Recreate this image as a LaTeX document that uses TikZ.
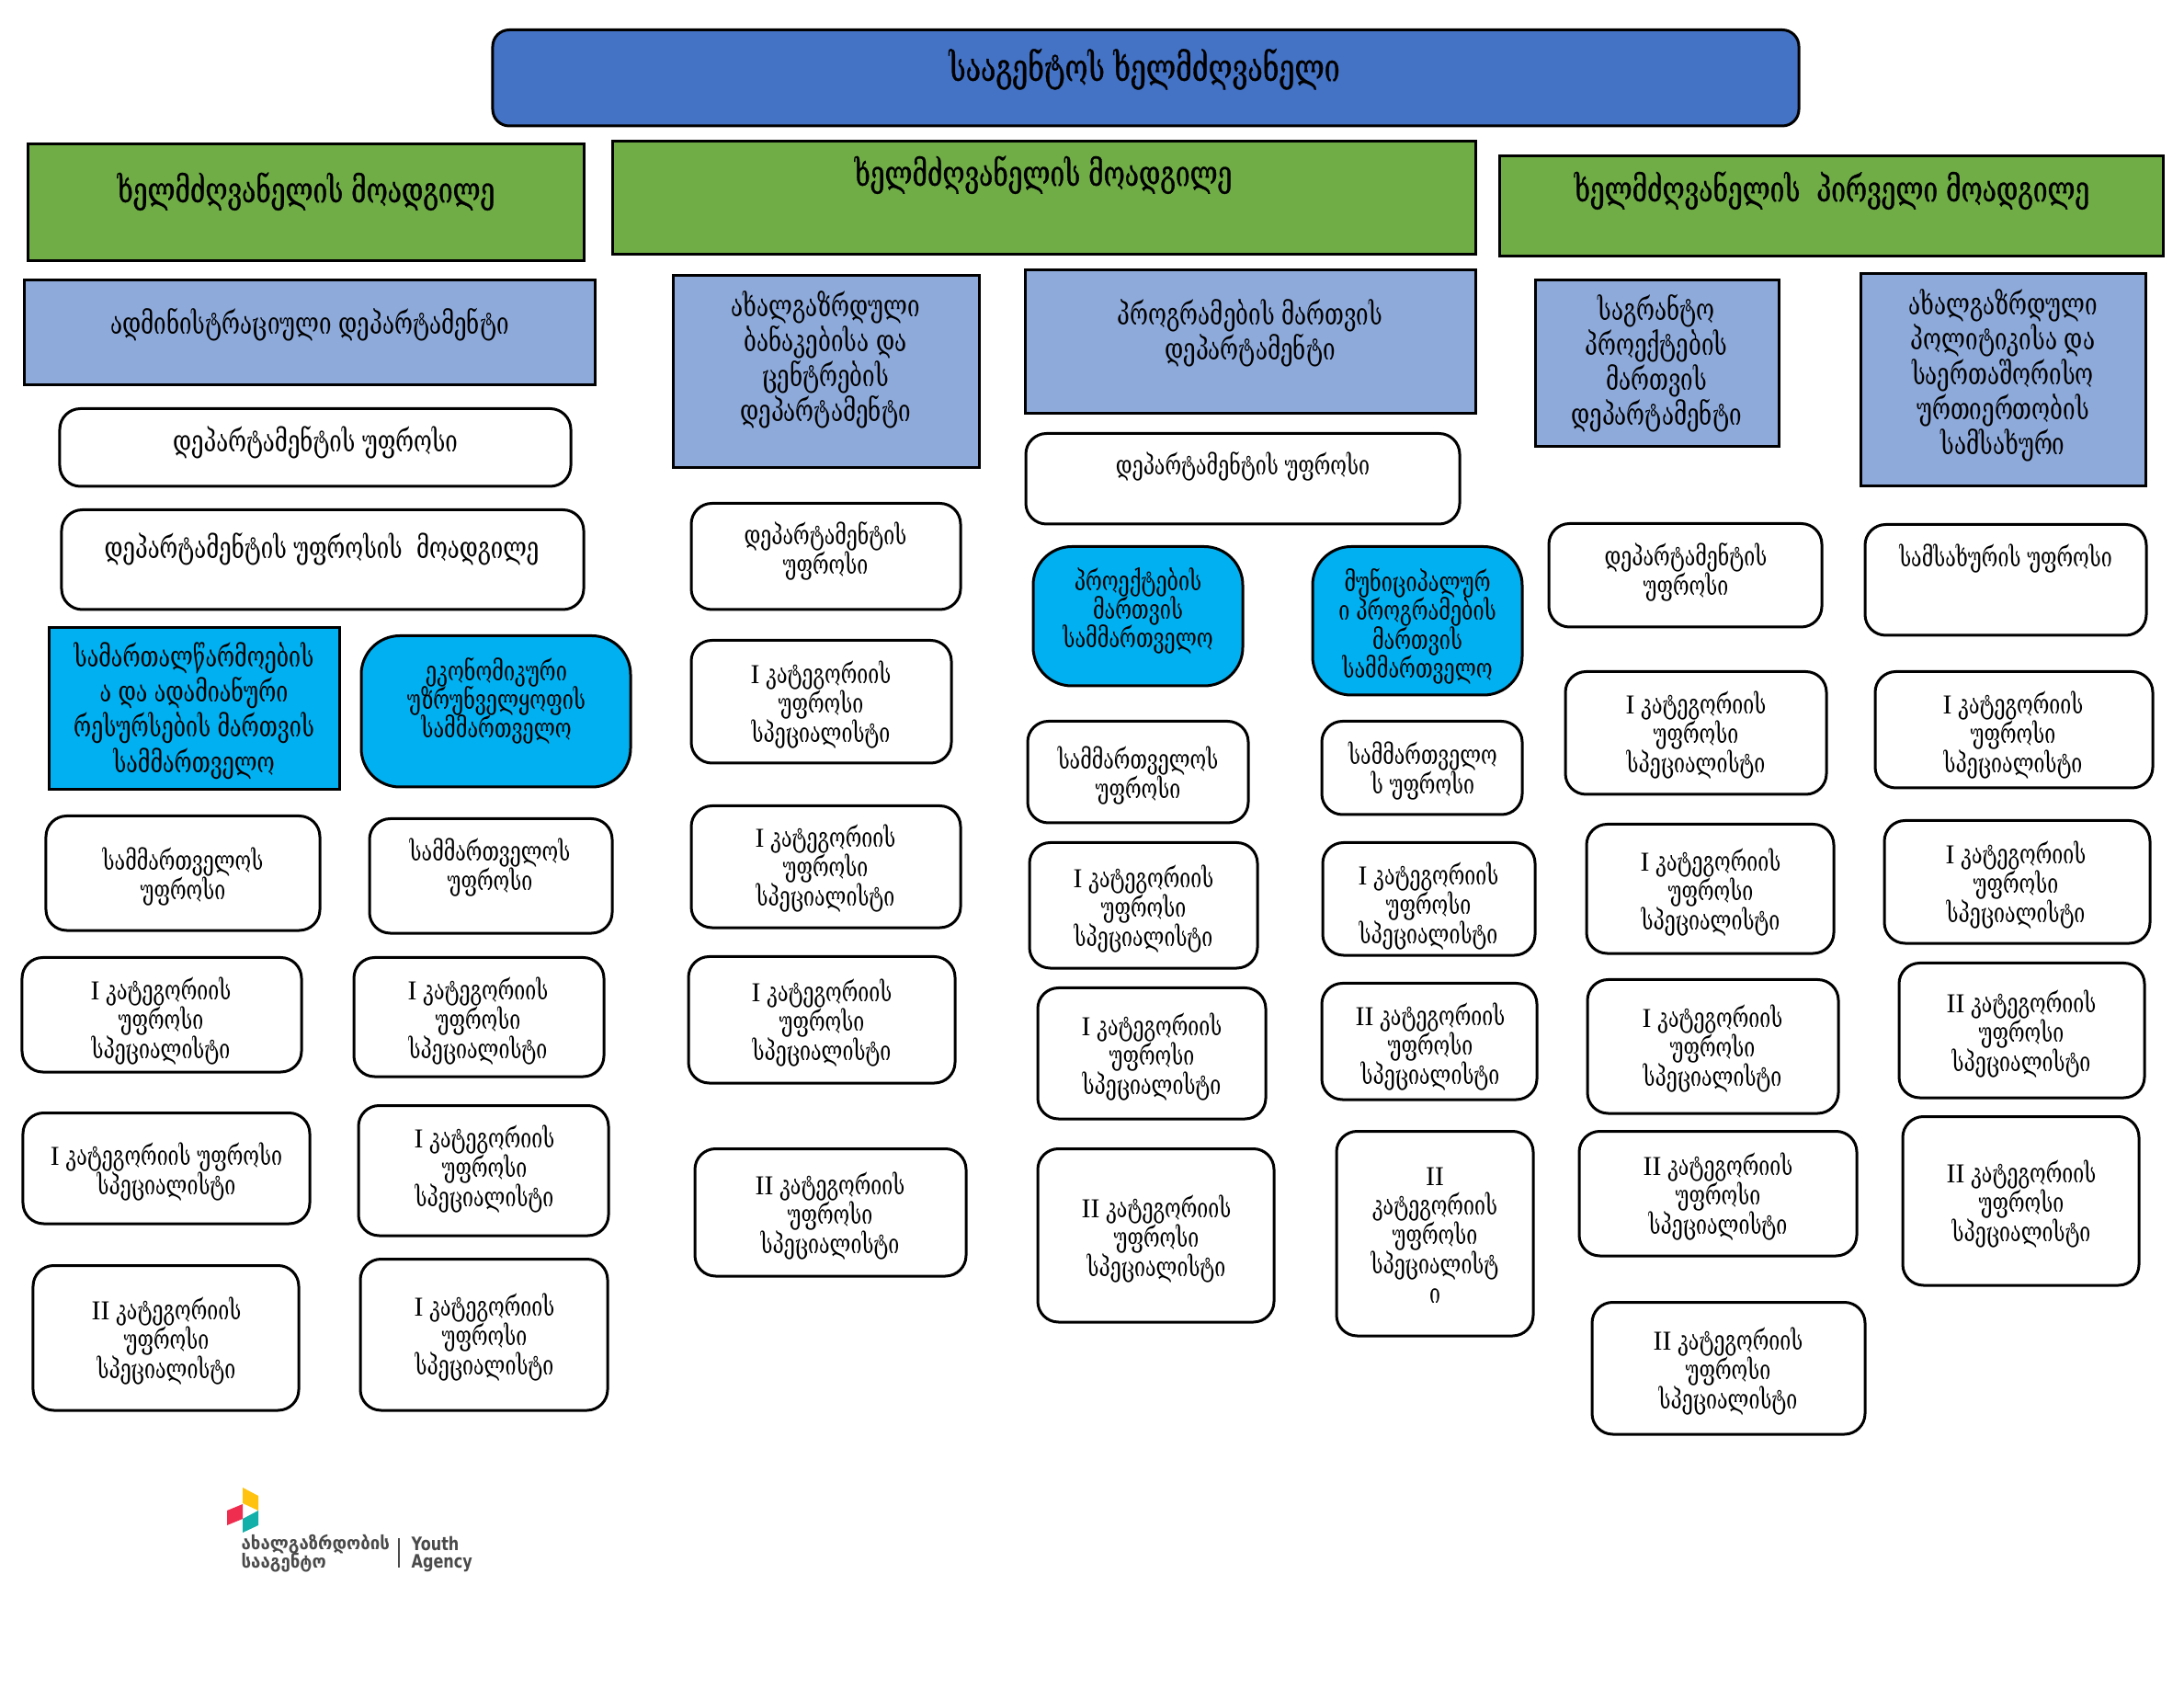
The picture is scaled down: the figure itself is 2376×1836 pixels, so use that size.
\documentclass[tikz,border=0pt]{standalone}
\usepackage{fontspec}
\setmainfont{DejaVu Serif}[FakeStretch=0.72]
\newfontfamily\lgf{DejaVu Sans}[FakeStretch=0.95]
\newfontfamily\lgl{DejaVu Sans}[FakeStretch=0.8]
\newfontfamily\rmn{Liberation Serif}
\definecolor{topblue}{HTML}{4472C4}
\definecolor{grn}{HTML}{70AD47}
\definecolor{dept}{HTML}{8EAADB}
\definecolor{cyn}{HTML}{00B0F0}
\definecolor{logogray}{HTML}{4A4A4A}
\definecolor{lgy}{HTML}{FFC20E}
\definecolor{lgr}{HTML}{EE2D4F}
\definecolor{lgt}{HTML}{12B0A8}
\newcommand\setnf[2]{\def\nf{\fontsize{#1}{#2}\selectfont\lineskiplimit=-100pt\baselineskip=#2pt\relax}}
\newcommand\setnfb[2]{\def\nf{\addfontfeature{FakeBold=0.8}\fontsize{#1}{#2}\selectfont\lineskiplimit=-100pt\baselineskip=#2pt\relax}}
\tikzset{
 base/.style={draw=black,line width=1pt,inner sep=0pt,outer sep=0pt},
 topbox/.style={base,fill=topblue,rounded corners=6pt,execute at begin node={\setnfb{14}{17}}},
 vicebox/.style={base,fill=grn,execute at begin node={\setnfb{13}{17}}},
 deptbox/.style={base,fill=dept,execute at begin node={\setnf{11.2}{12.67}}},
 cynrect/.style={base,fill=cyn,execute at begin node={\setnf{10.75}{12.67}}},
 cynround/.style={base,fill=cyn,rounded corners=14pt,execute at begin node={\setnf{10}{10.4}}},
 whitebox/.style={base,fill=white,rounded corners=7.5pt,execute at begin node={\setnf{9.9}{10.67}}},
 whitebig/.style={whitebox,execute at begin node={\setnf{11.1}{10.67}}},
 lgtext/.style={anchor=west,inner sep=0pt,text=logogray,font=\lgf\bfseries\fontsize{6.55}{7}\selectfont},
 lgtextl/.style={anchor=west,inner sep=0pt,text=logogray,font=\lgl\bfseries\fontsize{6.7}{7}\selectfont},
}
% name, style, x1, y1, x2, y2, text centre x, text centre y, text
\newcommand\bx[9]{%
 \pgfmathsetmacro\bw{(#5-#3)/3}\pgfmathsetmacro\bh{(#6-#4-1.5)/3}%
 \pgfmathsetmacro\tdx{2*(#7-(#3+#5)/2)/3}\pgfmathsetmacro\tdy{-(#8-(#4+#6)/2)/3-3}%
 \node (#1) [#2,minimum width=\bw pt,minimum height=\bh pt] at ({(#3+#5)/2},{(#4+#6)/2+0.75})
 {\raisebox{\tdy pt}[0pt][0pt]{\makebox[0pt]{\hspace{\tdx pt}\parbox[c]{300pt}{\centering\nf #9\endgraf}}}};}
\newcommand\cati{{\rmn I} კატეგორიის\\უფროსი\\სპეციალისტი}
\newcommand\catii{{\rmn II} კატეგორიის\\უფროსი\\სპეციალისტი}
\begin{document}
\begin{tikzpicture}[x=0.33333pt,y=-0.33333pt]
\useasboundingbox (0,0) rectangle (2376,1836);
\bx{head}{topbox}{536}{31}{1957}{137}{1245}{73}{სააგენტოს ხელმძღვანელი}
\bx{v1}{vicebox}{31}{155}{635}{284}{333}{206}{ხელმძღვანელის მოადგილე}
\bx{v2}{vicebox}{666}{152}{1605}{277}{1135}{188}{ხელმძღვანელის მოადგილე}
\bx{v3}{vicebox}{1631}{168}{2353}{279}{1993}{205}{ხელმძღვანელის\ \ პირველი მოადგილე}
\bx{d1}{deptbox}{27}{303}{647}{419}{337}{351}{ადმინისტრაციული დეპარტამენტი}
\bx{d2}{deptbox}{732}{298}{1065}{509}{898}{389}{ახალგაზრდული\\ბანაკებისა და\\ცენტრების\\დეპარტამენტი}
\bx{d3}{deptbox}{1115}{292}{1605}{450}{1360}{360}{პროგრამების მართვის\\დეპარტამენტი}
\bx{d4}{deptbox}{1670}{303}{1935}{486}{1802}{393}{საგრანტო\\პროექტების\\მართვის\\დეპარტამენტი}
\bx{d5}{deptbox}{2024}{296}{2334}{529}{2179}{406}{ახალგაზრდული\\პოლიტიკისა და\\საერთაშორისო\\ურთიერთობის\\სამსახური}
\bx{a1}{whitebig}{65}{443}{621}{529}{343}{479}{დეპარტამენტის უფროსი}
\bx{a2}{whitebig}{67}{553}{635}{663}{350}{595}{დეპარტამენტის უფროსის\ \ მოადგილე}
\bx{c1}{cynrect}{54}{681}{369}{859}{211}{771}{სამართალწარმოების\\ა და ადამიანური\\რესურსების მართვის\\სამმართველო}
\bx{c2}{cynround}{393}{690}{686}{856}{540}{760}{ეკონომიკური\\უზრუნველყოფის\\სამმართველო}
\bx{a3}{whitebox}{50}{886}{348}{1012}{199}{951}{სამმართველოს\\უფროსი}
\bx{a4}{whitebox}{402}{889}{666}{1015}{533}{941}{სამმართველოს\\უფროსი}
\bx{a5}{whitebox}{24}{1040}{328}{1166}{175}{1108}{\cati}
\bx{a6}{whitebox}{385}{1040}{657}{1171}{520}{1108}{\cati}
\bx{a7}{whitebox}{25}{1209}{337}{1331}{181}{1272}{{\rmn I} კატეგორიის უფროსი\\სპეციალისტი}
\bx{a8}{whitebox}{390}{1201}{662}{1344}{527}{1269}{\cati}
\bx{a9}{whitebox}{36}{1375}{325}{1534}{181}{1456}{\catii}
\bx{a10}{whitebox}{392}{1368}{661}{1534}{527}{1452}{\cati}
\bx{b1}{whitebox}{752}{546}{1045}{663}{898}{597}{დეპარტამენტის\\უფროსი}
\bx{b2}{whitebox}{752}{695}{1035}{830}{893}{764}{\cati}
\bx{b3}{whitebox}{752}{875}{1045}{1009}{898}{942}{\cati}
\bx{b4}{whitebox}{749}{1039}{1039}{1178}{894}{1110}{\cati}
\bx{b5}{whitebox}{756}{1248}{1051}{1388}{903}{1320}{\catii}
\bx{e1}{whitebox}{1116}{470}{1588}{570}{1352}{505}{დეპარტამენტის უფროსი}
\bx{e2}{cynround}{1124}{593}{1352}{746}{1238}{662}{პროექტების\\მართვის\\სამმართველო}
\bx{e3}{whitebox}{1118}{783}{1358}{895}{1238}{841}{სამმართველოს\\უფროსი}
\bx{e4}{whitebox}{1120}{915}{1368}{1053}{1244}{986}{\cati}
\bx{e5}{whitebox}{1129}{1073}{1377}{1217}{1253}{1147}{\cati}
\bx{e6}{whitebox}{1129}{1248}{1386}{1438}{1258}{1345}{\catii}
\bx{f1}{cynround}{1428}{593}{1656}{756}{1542}{679}{მუნიციპალურ\\ი პროგრამების\\მართვის\\სამმართველო}
\bx{f2}{whitebox}{1438}{783}{1656}{886}{1548}{836}{სამმართველო\\ს უფროსი}
\bx{f3}{whitebox}{1439}{915}{1670}{1039}{1554}{983}{\cati}
\bx{f4}{whitebox}{1438}{1068}{1672}{1196}{1556}{1136}{\catii}
\bx{f5}{whitebox}{1454}{1229}{1668}{1453}{1561}{1342}{{\rmn II}\\კატეგორიის\\უფროსი\\სპეციალისტ\\ი}
\bx{g1}{whitebox}{1685}{568}{1982}{682}{1834}{620}{დეპარტამენტის\\უფროსი}
\bx{g2}{whitebox}{1703}{729}{1987}{864}{1845}{797}{\cati}
\bx{g3}{whitebox}{1726}{895}{1995}{1037}{1861}{968}{\cati}
\bx{g4}{whitebox}{1727}{1064}{2000}{1211}{1863}{1138}{\cati}
\bx{g5}{whitebox}{1718}{1229}{2020}{1366}{1869}{1299}{\catii}
\bx{g6}{whitebox}{1732}{1415}{2029}{1560}{1880}{1489}{\catii}
\bx{h1}{whitebox}{2029}{569}{2335}{691}{2182}{605}{სამსახურის უფროსი}
\bx{h2}{whitebox}{2040}{729}{2342}{857}{2190}{797}{\cati}
\bx{h3}{whitebox}{2050}{891}{2339}{1026}{2193}{960}{\cati}
\bx{h4}{whitebox}{2066}{1046}{2333}{1194}{2199}{1122}{\catii}
\bx{h5}{whitebox}{2070}{1213}{2327}{1398}{2199}{1307}{\catii}
% logo
\fill[lgy] (264,1618) -- (281,1627) -- (281,1643) -- (264,1635) -- cycle;
\fill[lgr] (247,1643) -- (264,1636) -- (264,1652) -- (247,1659) -- cycle;
\fill[lgt] (264,1652) -- (281,1643) -- (281,1659) -- (264,1667) -- cycle;
\node (lg1) [lgtext] at (262,1680) {ახალგაზრდობის};
\node (lg2) [lgtext] at (262,1700) {სააგენტო};
\node (lg3) [lgtextl] at (447,1679) {Youth};
\node (lg4) [lgtextl] at (447,1700) {Agency};
\coordinate (bar1) at (434,1673);
\coordinate (bar2) at (434,1705);
\draw[logogray,line width=0.7pt] (bar1) -- (bar2);
\end{tikzpicture}
\end{document}
